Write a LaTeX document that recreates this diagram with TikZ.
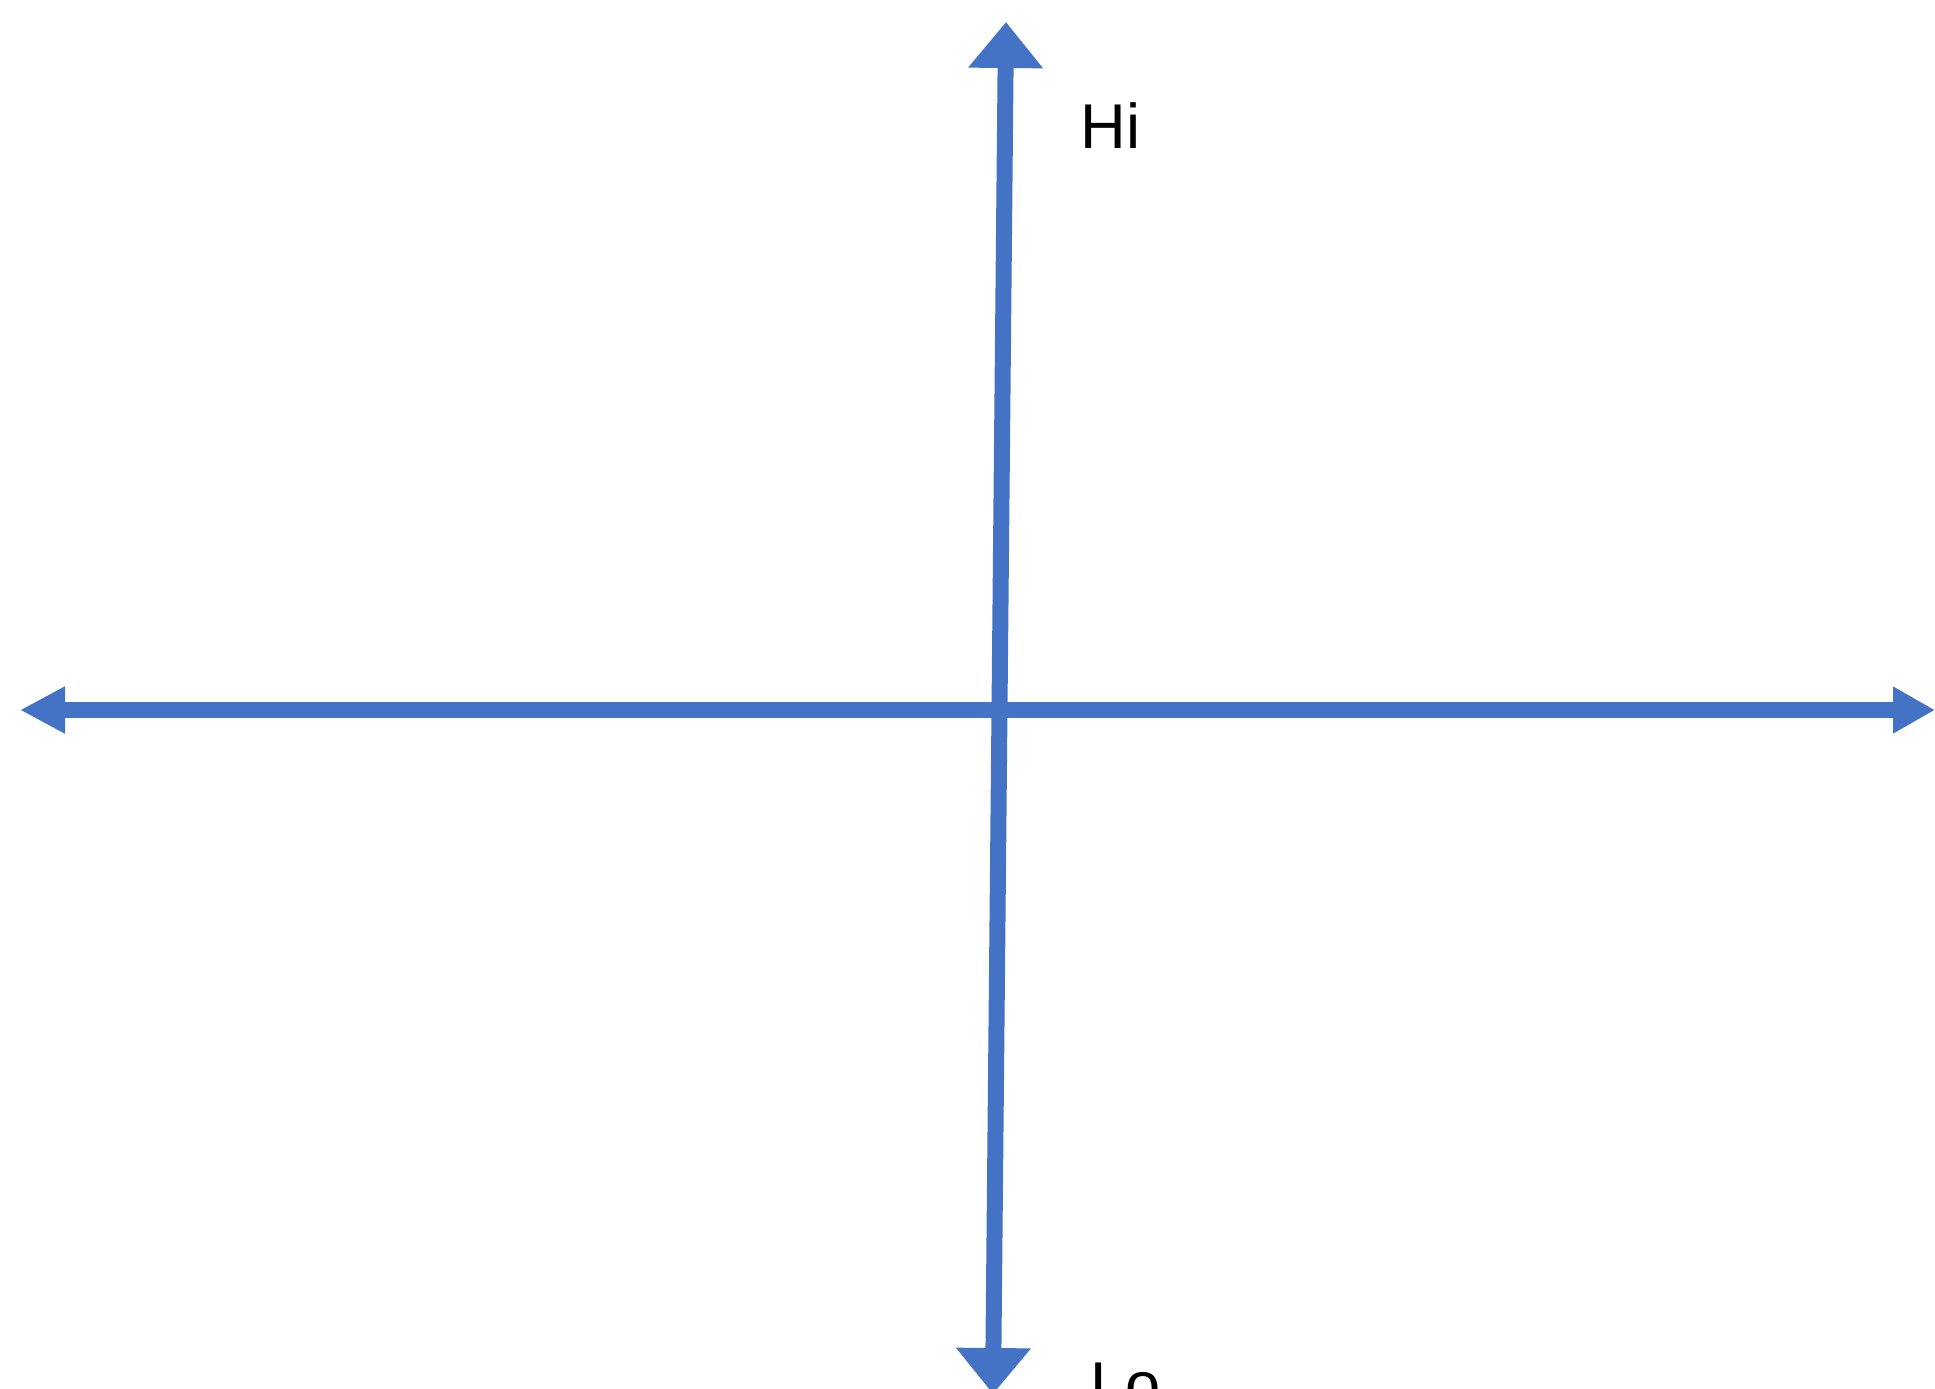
\documentclass[tikz,border=0pt]{standalone}
\usepackage{fontspec}
\setmainfont{Liberation Sans}
\usetikzlibrary{arrows.meta}
\definecolor{axisblue}{HTML}{4472C4}

\begin{document}
\begin{tikzpicture}
    % Define styles
    \tikzstyle{axis} = [axisblue, line width=0.16cm]
    \tikzstyle{varrow} = [axis, {Triangle[length=0.46cm,width=0.72cm]}-{Triangle[length=0.46cm,width=0.72cm]}]
    \tikzstyle{harrow} = [axis, {Triangle[length=0.45cm,width=0.44cm]}-{Triangle[length=0.42cm,width=0.44cm]}]
    \tikzstyle{label} = [inner sep=0pt, anchor=base west, font=\fontsize{18}{20}\selectfont]

    \useasboundingbox (0,0) rectangle (19.35,-13.88);

    % Ends of the axes
    \coordinate (hi) at (10.06,-0.22);
    \coordinate (lo) at (9.93,-13.94);
    \coordinate (west) at (0.20,-7.10);
    \coordinate (east) at (19.35,-7.10);

    % Axes
    \draw [harrow] (west) -- (east);
    \draw [varrow] (lo) -- (hi);

    % Labels
    \node [label] (hilabel) at (10.80,-1.48) {Hi};
    \node [label] (lolabel) at (10.90,-14.06) {Lo};
\end{tikzpicture}
\end{document}
